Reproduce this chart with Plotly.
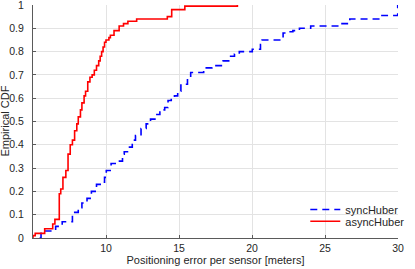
import plotly.graph_objects as go

# asyncHuber empirical CDF (step points)
async_x = [4.95, 5.0, 5.15, 5.8, 6.35, 6.5, 6.8, 6.9, 7.05, 7.25, 7.4, 7.55, 7.7, 7.85,
           8.0, 8.1, 8.25, 8.35, 8.5, 8.6, 8.75, 8.9, 9.05, 9.2, 9.35, 9.5, 9.6, 9.7,
           9.8, 9.9, 10.0, 10.2, 10.3, 10.55, 10.9, 11.2, 11.5, 12.1, 14.2, 14.5, 15.4, 19.0]
async_y = [0.0, 0.01, 0.02, 0.04, 0.06, 0.08, 0.19, 0.21, 0.26, 0.29, 0.36, 0.40, 0.42, 0.46,
           0.49, 0.52, 0.55, 0.58, 0.61, 0.63, 0.67, 0.69, 0.70, 0.72, 0.74, 0.76, 0.78, 0.80,
           0.82, 0.84, 0.85, 0.86, 0.87, 0.89, 0.91, 0.92, 0.93, 0.94, 0.95, 0.98, 0.995, 1.0]

# syncHuber empirical CDF (step points)
sync_x = [5.45, 5.55, 6.55, 7.0, 7.7, 8.1, 8.35, 8.7, 9.0, 9.35, 9.7, 9.9, 10.02, 10.35,
          10.8, 11.13, 11.25, 11.47, 11.8, 12.02, 12.4, 12.75, 13.05, 13.35, 13.69, 14.02,
          14.25, 14.47, 14.69, 14.91, 15.13, 15.58, 15.8, 16.69, 16.8, 17.25, 18.02, 18.47,
          18.8, 19.13, 20.02, 20.58, 20.69, 22.13, 22.33, 22.8, 23.25, 24.02, 25.95, 26.53,
          26.7, 28.9, 29.98]
sync_y = [0.0, 0.03, 0.05, 0.07, 0.11, 0.13, 0.15, 0.17, 0.20, 0.23, 0.24, 0.26, 0.29, 0.32,
          0.33, 0.36, 0.37, 0.39, 0.42, 0.44, 0.47, 0.49, 0.51, 0.53, 0.55, 0.56,
          0.59, 0.60, 0.61, 0.63, 0.66, 0.69, 0.71, 0.72, 0.73, 0.74, 0.76, 0.78,
          0.79, 0.80, 0.81, 0.83, 0.85, 0.88, 0.885, 0.89, 0.90, 0.91, 0.92, 0.93,
          0.94, 0.955, 1.0]

x_ticks = [10, 15, 20, 25, 30]
y_ticks = [0, 0.1, 0.2, 0.3, 0.4, 0.5, 0.6, 0.7, 0.8, 0.9, 1]

FONT = "Liberation Sans, Arial, Helvetica, sans-serif"
TXT = "#262626"

fig = go.Figure()
fig.add_trace(go.Scatter(
    x=sync_x, y=sync_y, mode="lines", name="syncHuber", line_shape="hv",
    line=dict(color="#0000ff", width=1.6, dash="7px,5px"), legend="legend"))
fig.add_trace(go.Scatter(
    x=async_x, y=async_y, mode="lines", name="asyncHuber", line_shape="hv",
    line=dict(color="#ff0000", width=1.6), legend="legend2"))

axis_common = dict(
    showgrid=True, gridcolor="#e3e3e3", gridwidth=1,
    zeroline=False, showline=True, linecolor="#5a5a5a", linewidth=1,
    ticks="inside", ticklen=3, tickcolor="#5a5a5a",
    tickfont=dict(family=FONT, size=10.5, color=TXT), mirror=False,
    ticklabeloverflow="allow", automargin=False,
)

fig.update_layout(
    width=415, height=269,
    margin=dict(l=33, r=5, t=5, b=31),
    paper_bgcolor="white", plot_bgcolor="white",
    font=dict(family=FONT, size=11, color=TXT),
    xaxis=dict(range=[5, 30], tickvals=x_ticks, **axis_common,
               title=dict(text="Positioning error per sensor [meters]",
                          font=dict(family=FONT, size=11, color=TXT), standoff=2)),
    yaxis=dict(range=[0, 1], tickvals=y_ticks, **axis_common,
               ticklabelstandoff=6),
    legend=dict(x=0.746, y=0.122, xanchor="left", yanchor="middle",
                bgcolor="rgba(0,0,0,0)", borderwidth=0,
                font=dict(family=FONT, size=11, color=TXT),
                itemwidth=30),
    legend2=dict(x=0.746, y=0.072, xanchor="left", yanchor="middle",
                 bgcolor="rgba(0,0,0,0)", borderwidth=0,
                 font=dict(family=FONT, size=11, color=TXT),
                 itemwidth=30),
    showlegend=True,
    annotations=[dict(text="Empirical CDF", textangle=-90, showarrow=False,
                      xref="paper", yref="paper", x=0, y=0.5,
                      xanchor="center", yanchor="middle", xshift=-29,
                      font=dict(family=FONT, size=11, color=TXT))],
)

fig.write_html("out.html", config={"displayModeBar": False},
               post_script="document.body.style.margin='0';")
